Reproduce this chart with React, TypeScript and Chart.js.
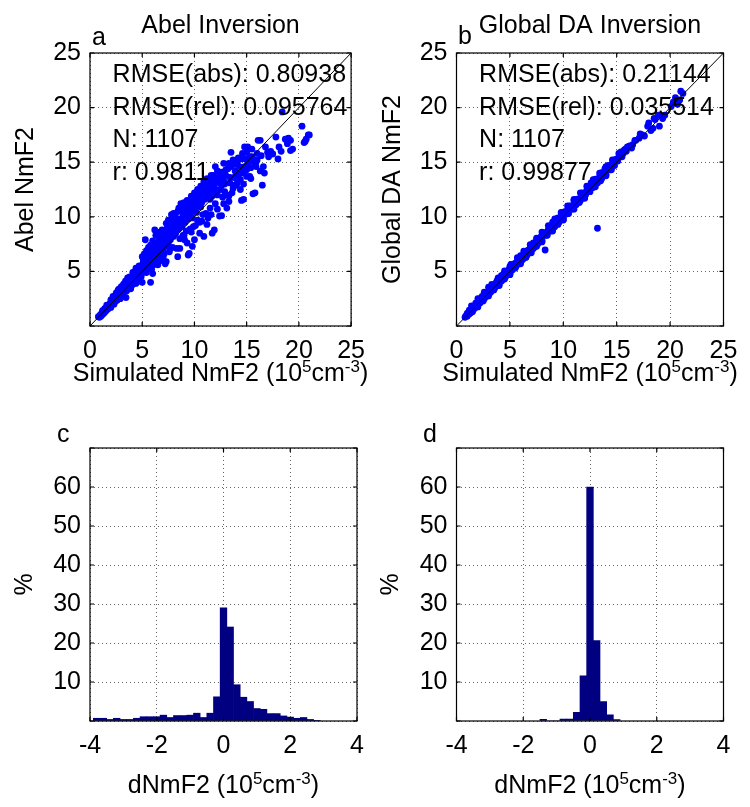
import React, { useEffect, useRef } from "react";
import { Chart, registerables } from "chart.js";

Chart.register(...registerables);

const FONT_FAMILY = '"Liberation Sans", Arial, Helvetica, sans-serif';
const FONT_SIZE = 25;
const SUP_SIZE = 17;
const SUP_RISE = 9;

// ---------------- DATA ----------------
const scatterRange = [0, 25];
const diagonal = [0, 25];
const histXRange = [-4, 4];
const histYRange = [0, 70];

// Panel a: simulated NmF2 (x) vs Abel-retrieved NmF2 (y), 10^5 cm^-3
const abelScatter: [number, number][] = [
  [0.8,0.85],[0.9,0.8],[1.0,1.05],[1.05,0.9],[1.15,1.2],[1.2,1.05],[1.3,1.35],[1.35,1.2],[1.45,1.5],[1.5,1.35],
  [1.6,1.7],[1.65,1.5],[1.75,1.85],[1.8,1.65],[1.9,2.05],[1.95,1.8],[2.05,2.2],[2.1,1.95],[2.2,2.4],[2.25,2.1],
  [2.35,2.55],[2.4,2.25],[2.5,2.7],[2.55,2.4],[2.65,2.9],[2.7,2.55],[2.8,3.05],[2.85,2.7],[2.95,3.25],[3.0,2.85],
  [3.1,3.4],[3.15,3.0],[3.25,3.6],[3.3,3.15],[3.4,3.75],[3.45,3.3],[3.55,3.95],[3.6,3.45],[3.7,4.1],[3.75,3.6],
  [3.85,4.3],[3.9,3.75],[4.0,4.45],[4.05,3.9],[4.15,4.65],[4.2,4.05],[4.3,4.8],[4.35,4.2],[4.45,5.0],[4.5,4.35],
  [4.6,5.15],[4.65,4.5],[4.75,5.3],[4.8,4.65],[4.9,5.5],[4.95,4.8],[5.05,5.65],[5.1,4.95],
  [2.2,2.7],[2.8,3.4],[3.3,3.9],[3.6,4.4],[4.1,4.9],[4.4,5.3],[3.0,3.6],[2.5,3.0],[1.6,1.9],
  [3.45,2.6],[2.9,2.5],[3.9,3.4],[4.4,3.9],[5.0,4.0],[4.6,4.1],
  [1.2,1.4],[1.7,1.55],[2.0,2.4],[2.3,2.0],[2.6,3.1],[2.6,2.35],[3.1,2.9],[3.2,3.8],[3.5,3.2],[3.8,3.5],
  [3.8,4.5],[4.1,3.8],[4.3,5.0],[4.6,4.3],[4.7,5.5],[4.9,4.5],[3.4,4.1],[2.0,1.7],[1.4,1.6],[2.7,3.3],
  [5.2,5.1],[5.3,5.9],[5.4,5.3],[5.5,6.2],[5.5,5.7],[5.6,6.6],[5.7,5.5],[5.8,6.3],[5.9,7.0],[5.9,5.8],
  [6.0,6.6],[6.1,7.3],[6.2,6.1],[6.3,6.9],[6.4,7.6],[6.5,6.4],[6.5,7.2],[6.6,8.0],[6.7,6.7],[6.8,7.5],
  [6.9,8.3],[7.0,7.0],[7.0,7.8],[7.1,8.6],[7.2,7.3],[7.3,8.1],[7.4,9.0],[7.5,7.6],[7.5,8.5],[7.6,9.3],
  [7.7,7.9],[7.8,8.8],[7.9,9.6],[8.0,8.2],[8.0,9.1],
  [5.1,6.0],[5.2,6.6],[5.4,6.9],[5.6,7.2],[5.7,6.0],[5.8,6.8],[6.0,7.8],[6.1,6.8],[6.2,7.5],[6.3,8.3],
  [6.4,6.9],[6.6,7.4],[6.7,8.6],[6.8,7.9],[6.9,7.2],[7.1,7.6],[7.2,8.3],[7.3,9.4],[7.4,8.0],[7.6,8.2],
  [7.7,9.0],[7.8,9.8],[7.9,8.5],[8.0,9.6],[8.0,10.3],[5.4,4.9],[6.1,5.6],[6.6,6.2],[7.1,6.6],[7.7,7.1],
  [5.3,7.9],[6.2,8.8],[5.0,6.35],[5.8,7.4],[6.9,8.8],[7.5,9.7],[7.8,10.2],
  [5.8,4.0],[6.0,4.8],[6.5,5.6],[7.2,5.7],[7.3,5.9],[7.0,6.3],[7.6,6.8],[6.8,6.0],[7.9,7.2],[5.9,5.2],[6.4,5.9],
  [8.1,9.9],[8.2,8.5],[8.3,9.4],[8.4,10.5],[8.5,8.9],[8.6,9.8],[8.7,11.2],[8.8,9.2],[8.9,10.2],[9.0,10.9],
  [9.1,9.5],[9.2,10.5],[9.3,11.5],[9.4,9.8],[9.5,11.4],[9.5,10.8],[9.6,10.1],[9.7,11.9],[9.8,10.5],[9.9,11.2],
  [10.0,12.2],[10.1,10.6],[10.2,11.5],[10.3,12.5],[10.4,11.0],[10.5,11.9],[10.6,12.8],[10.7,11.3],[10.8,12.2],[10.9,13.2],
  [11.0,11.6],[11.1,12.6],[11.2,13.5],[11.3,12.0],[11.4,12.9],[11.5,11.6],[11.6,13.3],[11.7,12.3],[11.8,13.8],[11.9,12.7],
  [12.0,14.6],[12.1,13.2],
  [8.1,8.9],[8.2,10.3],[8.3,9.0],[8.5,9.5],[8.5,10.8],[8.7,9.6],[8.8,10.6],[9.0,9.8],[9.0,11.3],[9.1,10.2],
  [9.3,10.0],[9.3,10.9],[9.5,10.3],[9.6,11.0],[9.7,11.5],[9.8,9.9],[10.0,10.8],[10.0,11.5],[10.2,10.4],[10.2,12.0],
  [10.4,11.6],[10.5,12.4],[10.6,10.9],[10.7,12.1],[10.8,11.6],[11.0,12.2],[11.0,13.0],[11.2,11.9],[11.3,12.7],[11.5,12.4],
  [11.6,13.8],[11.7,11.9],[11.8,13.1],[12.0,12.5],[12.0,13.6],[12.2,14.2],[12.4,13.1],[12.5,14.0],[12.6,12.9],[12.7,13.6],
  [8.4,6.35],[8.6,7.1],[8.3,7.1],[9.05,7.9],[9.5,6.65],[9.4,6.5],[9.7,8.6],[9.8,7.3],[10.0,7.9],[10.3,9.7],
  [10.9,8.2],[11.1,10.3],[11.7,8.5],[11.9,8.8],[10.5,9.5],[11.3,9.9],[8.9,8.3],[9.2,8.7],[10.8,10.2],[11.5,10.8],
  [12.0,11.2],[9.9,9.1],
  [8.6,8.0],[9.0,8.3],[9.3,7.6],[9.6,8.9],[10.1,9.2],[10.5,8.5],[10.7,9.6],[11.2,9.3],[11.6,10.2],[12.2,10.7],
  [12.8,11.2],[13.3,11.9],[13.8,12.9],[14.1,13.1],[14.3,14.0],[14.7,13.0],[15.0,14.3],[15.4,13.5],[15.9,15.0],[16.3,14.2],
  [16.0,15.8],[16.4,15.6],[17.0,15.9],[17.3,16.0],[18.3,16.0],[18.0,15.3],[19.2,17.0],[20.5,16.8],
  [12.2,12.0],[12.3,13.6],[12.4,10.07],[12.5,12.5],[12.6,10.1],[12.6,14.1],[12.7,11.8],[12.8,13.3],[12.8,14.9],[12.9,12.3],
  [13.0,13.8],[13.1,10.8],[13.1,12.0],[13.2,14.4],[13.3,11.4],[13.4,13.1],[13.5,15.9],[13.5,14.6],[13.6,12.2],[13.7,12.6],
  [13.7,15.2],[13.8,13.6],[13.9,14.2],[14.0,12.9],[14.1,15.0],[14.2,13.8],[14.3,14.6],[14.4,12.5],[14.4,13.4],[14.5,11.5],
  [14.5,15.3],[14.6,14.0],[14.7,11.6],[14.8,14.6],[14.8,16.4],[14.9,15.3],[15.0,13.7],[15.1,16.4],[15.1,14.9],[15.2,15.3],
  [15.3,13.7],[15.3,15.5],[15.4,14.5],[15.5,15.5],[15.6,12.1],[15.7,15.0],[15.8,12.2],[15.9,14.6],[16.0,15.2],
  [13.0,14.3],[13.3,14.9],[13.8,14.8],[14.2,15.4],[14.6,15.8],[15.0,15.9],[15.5,16.2],[13.4,13.6],[14.0,14.0],[14.6,14.5],
  [12.9,13.0],
  [16.1,17.0],[16.3,17.0],[16.5,12.9],[16.6,14.6],[16.7,14.0],[16.8,16.4],[17.1,15.5],[17.5,15.75],[17.8,17.3],[18.1,16.4],
  [18.4,19.6],[18.7,17.1],[18.9,16.7],[19.0,17.2],[19.2,16.06],[19.4,16.2],[20.3,18.3],[20.6,16.9],[20.7,17.1],[20.9,17.5],
  [21.0,17.5]
];

// Panel b: simulated NmF2 (x) vs global DA NmF2 (y)
const daScatter: [number, number][] = [
  [0.8,0.8],[0.9,0.95],[1.0,0.9],[1.1,1.2],[1.2,1.1],[1.3,1.4],[1.4,1.3],[1.5,1.6],[1.6,1.5],[1.7,1.85],
  [1.8,1.7],[1.9,2.05],[2.0,1.9],[2.1,2.25],[2.2,2.1],[2.3,2.45],[2.4,2.3],[2.5,2.7],[2.6,2.5],[2.7,2.9],
  [2.8,2.7],[2.9,3.1],[3.0,2.9],[3.1,3.3],[3.2,3.1],[3.3,3.5],[3.4,3.3],[3.5,3.75],[3.6,3.5],[3.7,3.95],
  [3.8,3.7],[3.9,4.15],[4.0,3.9],[4.1,4.35],[4.2,4.1],[4.3,4.55],[4.4,4.3],[4.5,4.75],[4.6,4.5],[4.7,4.95],
  [4.8,4.7],[4.9,5.15],[5.0,4.9],[5.1,5.35],[5.2,5.1],[5.3,5.55],[5.4,5.3],[5.5,5.75],[5.6,5.5],[5.7,5.95],
  [5.8,5.7],[5.9,6.15],[6.0,5.9],[6.1,6.35],[6.2,6.1],[6.3,6.55],[6.4,6.3],[6.5,6.75],[6.6,6.5],[6.7,6.95],
  [6.8,6.7],[6.9,7.15],[7.0,6.9],[7.1,7.35],[7.2,7.1],[7.3,7.55],[7.4,7.3],[7.5,7.75],[7.6,7.5],[7.7,7.95],
  [7.8,7.7],[7.9,8.15],[8.0,7.9],[8.2,8.4],[8.4,8.3],[8.6,8.85],[8.8,8.7],[9.0,9.25],[9.2,9.1],[9.4,9.65],
  [9.6,9.5],[9.8,10.05],[10.0,9.9],[10.2,10.5],[10.4,10.3],[10.6,10.85],[10.8,10.7],[11.0,11.25],[11.2,11.1],[11.4,11.65],
  [11.6,11.5],[11.8,12.05],[12.0,11.9],[12.2,12.45],[12.4,12.3],[12.6,12.9],[12.8,12.7],[13.0,13.3],[13.2,13.1],[13.4,13.7],
  [13.6,13.5],[13.8,14.1],[14.0,13.9],[14.2,14.5],[14.4,14.3],[14.6,14.9],[14.8,14.7],[15.0,15.3],[15.3,15.6],[15.6,15.8],
  [15.9,16.0],[16.2,16.5],[16.5,16.6],[16.8,17.0],[17.1,17.2],[17.4,17.5],[17.9,18.3],[18.2,17.9],[18.4,18.1],[18.6,18.9],
  [18.9,19.3],[19.0,18.3],[19.3,19.0],[19.5,19.3],[20.1,20.1],[20.5,20.9],[20.7,20.3],[21.0,21.5],[21.2,21.3],
  [3.0,3.55],[4.2,4.6],[5.0,5.45],[6.5,6.3],[7.5,7.9],[8.3,6.96],[13.2,8.95],[10.5,10.9],[12.1,12.2],[14.1,14.4],
  [9.5,9.9],[2.2,2.5],[1.5,1.75],
  [1.2,1.45],[1.8,2.1],[2.4,2.7],[3.2,3.5],[3.8,4.15],[4.4,4.75],[5.2,5.6],[5.8,6.2],[6.4,6.75],[7.0,7.4],
  [7.6,8.0],[8.1,8.5],[8.7,9.05],[9.3,9.7],[9.9,10.3],[10.5,10.9],[11.1,11.5],[11.7,12.1],[12.3,12.7],[12.9,13.3],
  [13.5,13.9],[14.1,14.5],[14.7,15.1],[15.3,15.8],[15.8,16.2],
  [1.5,1.3],[2.5,2.3],[3.5,3.3],[4.5,4.3],[5.5,5.3],[6.5,6.3],[7.5,7.3],[8.5,8.3],[9.5,9.3],[10.5,10.3],
  [11.5,11.3],[12.5,12.3],[13.5,13.3],[14.5,14.3],
  [1.0,1.15],[1.3,1.2],[1.6,1.75],[1.9,1.8],[2.2,2.35],[2.5,2.45],[2.8,2.95],[3.1,3.05],[3.4,3.6],[3.7,3.65],
  [4.0,4.2],[4.3,4.25],[4.6,4.85],[4.9,4.85],[5.2,5.45],[5.5,5.45],[5.8,6.05],[6.1,6.05],[6.4,6.65],[6.7,6.65],
  [7.0,7.25],[7.3,7.25],[7.6,7.85],[7.9,7.85],[8.2,8.55],[8.5,8.5],[8.8,9.1],[9.1,9.05],[9.4,9.8],[9.7,9.65],
  [10.0,10.4],[10.3,10.25],[10.6,11.0],[10.9,10.85],[11.2,11.6],[11.5,11.45],[11.8,12.2],[12.1,12.05],[12.4,12.8],[12.7,12.65],
  [13.0,13.45],[13.3,13.25],[13.6,14.05],[13.9,13.85],[14.2,14.7],[14.5,14.45],[14.8,15.2],[15.1,15.1],[15.5,15.5],[15.7,16.1],
  [16.0,16.4],[16.4,16.3],[16.7,17.0],[17.2,17.6],[17.6,17.4],[18.0,18.6],[18.5,19.0],[19.2,19.2],[20.3,20.5],[20.9,20.7],
  [6.0,6.45],[7.2,7.6],[9.0,9.5],[11.0,11.5],[12.6,13.1],[13.9,14.4],[15.4,15.95],[5.0,4.75],[8.0,7.75],[10.0,9.75],
  [12.0,11.75],
  [1.4,1.85],[2.0,2.5],[2.6,3.1],[3.3,3.8],[3.9,4.4],[4.5,5.05],[5.1,5.65],[5.7,6.25],[6.3,6.85],[6.9,7.45],
  [7.5,8.05],[8.0,8.6],[8.6,9.2],[9.2,9.8],[9.8,10.4],[10.4,11.0],[11.0,11.6],[11.6,12.2],[12.2,12.8],[12.8,13.4],
  [13.4,14.0],[14.0,14.6],[14.6,15.2],[15.2,15.8],
  [2.0,1.75],[3.0,2.75],[4.0,3.7],[5.0,4.7],[6.0,5.7],[7.0,6.7],[8.0,7.7],[9.0,8.7],[10.0,9.7],[11.0,10.7],
  [12.0,11.7],[13.0,12.75],[14.0,13.75]
];

// Panel c: histogram of dNmF2 (Abel), bin centres and percentages
const abelBins = [-3.8,-3.6,-3.4,-3.2,-3.0,-2.8,-2.6,-2.4,-2.2,-2.0,-1.8,-1.6,-1.4,-1.2,-1.0,-0.8,-0.6,-0.4,-0.2,0,
  0.2,0.4,0.6,0.8,1.0,1.2,1.4,1.6,1.8,2.0,2.2,2.4,2.6,2.8];
const abelPercent = [0.7,0.7,0.4,0.7,0.4,0.4,0.7,1.1,1.1,1.1,1.5,0.9,1.4,1.4,1.5,2.0,0.9,2.0,6.2,29.0,
  24.1,9.3,6.1,5.0,3.2,3.0,1.9,1.9,1.3,1.0,0.7,0.9,0.4,0.1];

// Panel d: histogram of dNmF2 (Global DA)
const daBins = [-1.4,-1.2,-1.0,-0.8,-0.6,-0.4,-0.2,0,0.2,0.4,0.6,0.8];
const daPercent = [0.4,0,0,0.5,0.5,2.2,11.6,60.0,20.6,5.0,1.6,0.35];

// Texts
const abelNotes = ["RMSE(abs): 0.80938", "RMSE(rel): 0.095764", "N: 1107", "r: 0.9811"];
const daNotes = ["RMSE(abs): 0.21144", "RMSE(rel): 0.035514", "N: 1107", "r: 0.99877"];

type Seg = { t: string; sup?: boolean };
const simTitle: Seg[] = [{ t: "Simulated NmF2 (10" }, { t: "5", sup: true }, { t: "cm" }, { t: "-3", sup: true }, { t: ")" }];
const dTitle: Seg[] = [{ t: "dNmF2 (10" }, { t: "5", sup: true }, { t: "cm" }, { t: "-3", sup: true }, { t: ")" }];

// ---------------- DRAWING HELPERS ----------------
function segFont(s: Seg) {
  return `${s.sup ? SUP_SIZE : FONT_SIZE}px ${FONT_FAMILY}`;
}
function drawRich(ctx: CanvasRenderingContext2D, segs: Seg[], x: number, y: number, align: "center" | "left") {
  let w = 0;
  for (const s of segs) { ctx.font = segFont(s); w += ctx.measureText(s.t).width; }
  let cx = align === "center" ? x - w / 2 : x;
  for (const s of segs) {
    ctx.font = segFont(s);
    ctx.fillText(s.t, cx, s.sup ? y - SUP_RISE : y);
    cx += ctx.measureText(s.t).width;
  }
}

type Deco = {
  id: string;
  title?: string;
  letter: string;
  letterDx: number;
  letterDy: number;
  xTitle: Seg[];
  xTitleDy: number;
  yTitle: Seg[];
  yTitleDx: number;
  notes?: string[];
};

function decoPlugin(d: Deco) {
  return {
    id: "deco_" + d.id,
    afterDraw(chart: any) {
      const { ctx, chartArea: a } = chart;
      const xs = chart.scales.x;
      const ys = chart.scales.y;
      ctx.save();
      ctx.setLineDash([]);
      ctx.strokeStyle = "#000";
      ctx.lineWidth = 1.2;
      ctx.strokeRect(a.left, a.top, a.right - a.left, a.bottom - a.top);
      ctx.beginPath();
      for (const t of xs.ticks) {
        const p = xs.getPixelForValue(t.value);
        ctx.moveTo(p, a.bottom); ctx.lineTo(p, a.bottom - 4);
        ctx.moveTo(p, a.top); ctx.lineTo(p, a.top + 4);
      }
      for (const t of ys.ticks) {
        const p = ys.getPixelForValue(t.value);
        ctx.moveTo(a.left, p); ctx.lineTo(a.left + 4, p);
        ctx.moveTo(a.right, p); ctx.lineTo(a.right - 4, p);
      }
      ctx.stroke();

      ctx.fillStyle = "#000";
      ctx.textBaseline = "alphabetic";
      ctx.textAlign = "left";
      const cxm = (a.left + a.right) / 2;
      const cym = (a.top + a.bottom) / 2;
      if (d.title) drawRich(ctx, [{ t: d.title }], cxm, a.top - 20, "center");
      drawRich(ctx, [{ t: d.letter }], a.left + d.letterDx, a.top + d.letterDy, "left");
      drawRich(ctx, d.xTitle, cxm, a.bottom + d.xTitleDy, "center");
      ctx.save();
      ctx.translate(a.left + d.yTitleDx, cym);
      ctx.rotate(-Math.PI / 2);
      drawRich(ctx, d.yTitle, 0, 0, "center");
      ctx.restore();
      if (d.notes) {
        d.notes.forEach((n, i) => {
          drawRich(ctx, [{ t: n }], a.left + 22.6, a.top + 28.7 + i * 32.8, "left");
        });
      }
      ctx.restore();
    },
  };
}

const tickFont = { family: FONT_FAMILY, size: FONT_SIZE };

function axisCommon(min: number, max: number, step: number, hide: number[]) {
  return {
    type: "linear",
    min,
    max,
    offset: false,
    ticks: {
      stepSize: step,
      font: tickFont,
      color: "#000",
      autoSkip: false,
      maxRotation: 0,
      callback: (v: number) => (hide.includes(v) ? "" : String(v)),
    },
    grid: { color: "rgba(0,0,0,0.6)", lineWidth: 1, drawTicks: false, offset: false },
    border: { display: false, dash: [1, 3] },
  };
}

type PanelSpec = {
  left: number;
  top: number;
  yW: number;
  xH: number;
  padTop: number;
  padRight: number;
  kind: "scatter" | "hist";
  points?: [number, number][];
  bins?: number[];
  values?: number[];
  deco: Deco;
};

function buildConfig(p: PanelSpec): any {
  const layout = { padding: { left: 0, right: p.padRight, top: p.padTop, bottom: 0 } };
  const plugins = { legend: { display: false }, tooltip: { enabled: false }, title: { display: false } };
  if (p.kind === "scatter") {
    const xAxis: any = axisCommon(scatterRange[0], scatterRange[1], 5, []);
    const yAxis: any = axisCommon(scatterRange[0], scatterRange[1], 5, [0]);
    xAxis.ticks.padding = 10;
    yAxis.ticks.padding = 9;
    xAxis.afterFit = (s: any) => { s.height = p.xH; };
    yAxis.afterFit = (s: any) => { s.width = p.yW; };
    return {
      type: "scatter",
      data: {
        datasets: [
          {
            type: "line",
            data: diagonal.map((v) => ({ x: v, y: v })),
            borderColor: "#000",
            borderWidth: 1,
            pointRadius: 0,
            tension: 0,
            order: 0,
          },
          {
            type: "scatter",
            data: (p.points || []).map(([x, y]) => ({ x, y })),
            backgroundColor: "#0000ff",
            borderWidth: 0,
            pointRadius: 3.4,
            order: 1,
          },
        ],
      },
      options: {
        responsive: false,
        animation: false,
        devicePixelRatio: 1,
        events: [],
        layout,
        plugins,
        scales: { x: xAxis, y: yAxis },
      },
      plugins: [decoPlugin(p.deco)],
    };
  }
  const xAxis: any = axisCommon(histXRange[0], histXRange[1], 2, []);
  const yAxis: any = axisCommon(histYRange[0], histYRange[1], 10, [0, 70]);
  xAxis.ticks.padding = 10;
  yAxis.ticks.padding = 9;
  xAxis.afterFit = (s: any) => { s.height = p.xH; };
  yAxis.afterFit = (s: any) => { s.width = p.yW; };
  return {
    type: "bar",
    data: {
      datasets: [
        {
          data: (p.bins || []).map((b, i) => ({ x: b, y: (p.values || [])[i] })),
          backgroundColor: "#000080",
          borderWidth: 0,
          barPercentage: 1,
          categoryPercentage: 1,
        },
      ],
    },
    options: {
      responsive: false,
      animation: false,
      devicePixelRatio: 1,
      events: [],
      layout,
      plugins,
      scales: { x: xAxis, y: yAxis },
    },
    plugins: [decoPlugin(p.deco)],
  };
}

const panels: PanelSpec[] = [
  {
    left: 0, top: 0, yW: 90, xH: 77, padTop: 53, padRight: 18, kind: "scatter", points: abelScatter,
    deco: { id: "a", title: "Abel Inversion", letter: "a", letterDx: 2, letterDy: -8, xTitle: simTitle, xTitleDy: 55,
      yTitle: [{ t: "Abel NmF2" }], yTitleDx: -57, notes: abelNotes },
  },
  {
    left: 375, top: 0, yW: 81.5, xH: 77, padTop: 53, padRight: 26.5, kind: "scatter", points: daScatter,
    deco: { id: "b", title: "Global DA Inversion", letter: "b", letterDx: 1.5, letterDy: -9, xTitle: simTitle, xTitleDy: 55,
      yTitle: [{ t: "Global DA NmF2" }], yTitleDx: -56.5, notes: daNotes },
  },
  {
    left: 0, top: 403, yW: 90, xH: 85, padTop: 45, padRight: 18, kind: "hist", bins: abelBins, values: abelPercent,
    deco: { id: "c", letter: "c", letterDx: -33, letterDy: -6, xTitle: dTitle, xTitleDy: 72,
      yTitle: [{ t: "%" }], yTitleDx: -58 },
  },
  {
    left: 375, top: 403, yW: 81.5, xH: 85, padTop: 45, padRight: 26.5, kind: "hist", bins: daBins, values: daPercent,
    deco: { id: "d", letter: "d", letterDx: -33.5, letterDy: -6, xTitle: dTitle, xTitleDy: 72,
      yTitle: [{ t: "%" }], yTitleDx: -58.5 },
  },
];

function Panel({ spec }: { spec: PanelSpec }) {
  const ref = useRef<HTMLCanvasElement>(null);
  useEffect(() => {
    if (!ref.current) return;
    const chart = new Chart(ref.current, buildConfig(spec));
    return () => chart.destroy();
  }, [spec]);
  return (
    <canvas
      ref={ref}
      width={375}
      height={403}
      style={{ position: "absolute", left: spec.left, top: spec.top, width: 375, height: 403 }}
    />
  );
}

export default function App() {
  return (
    <div style={{ position: "absolute", left: 0, top: 0, width: 750, height: 807, background: "#fff" }}>
      {panels.map((p) => (
        <Panel key={p.deco.id} spec={p} />
      ))}
    </div>
  );
}
